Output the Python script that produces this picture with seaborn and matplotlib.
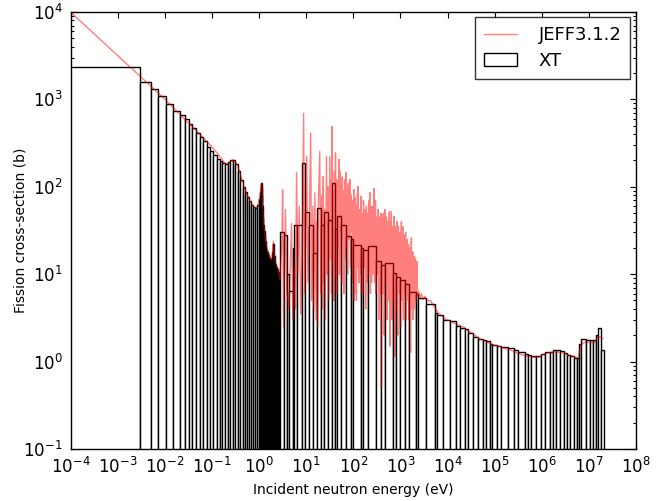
import numpy as np
import matplotlib
matplotlib.use("Agg")
import matplotlib.pyplot as plt
import seaborn as sns
from matplotlib.ticker import LogLocator, NullLocator

# JEFF3.1.2 pointwise fission cross-section, energy in eV, xs in barn
# thermal range (1/v + small resonances at 0.29 and 1.14 eV)
jeff_e_thermal = [1e-4, 1e-3, 3e-3, 1e-2, 2.53e-2, 5e-2, 0.1, 0.15, 0.19, 0.22,
                  0.26, 0.285, 0.32, 0.36, 0.39, 0.45, 0.5, 0.58, 0.65, 0.75,
                  0.82, 0.9, 0.97, 1.03, 1.07, 1.1, 1.12, 1.15, 1.17, 1.21,
                  1.25, 1.3, 1.4, 1.55, 1.7, 1.8, 1.92, 2.0, 2.07, 2.15,
                  2.3, 2.5, 2.75]
jeff_xs_thermal = [9900, 3150, 1830, 1000, 600, 420, 285, 218, 184, 188,
                   198, 204, 188, 165, 143, 110, 92, 76, 68, 60,
                   57, 59, 66, 78, 92, 105, 110, 95, 71, 48,
                   38, 30, 22, 17.5, 15.5, 14.7, 17, 23.7, 19, 14.7,
                   12.5, 11.3, 8.6]

# resolved resonance range
jeff_e_res = [3.0, 3.14, 3.3, 3.6, 3.9, 4.3, 4.85, 5.2, 5.6, 5.9,
              6.2, 6.6, 7.1, 7.6, 8.2, 8.77, 9.2, 9.7, 10.2, 10.8,
              11.6, 12.4, 13.0, 13.8, 14.4, 15.2, 16.1, 16.7, 17.5, 18.1,
              19.3, 20.2, 21.1, 22.0, 22.9, 23.6, 24.3, 25.3, 26.8, 27.8,
              28.9, 30.0, 31.6, 32.8, 33.5, 34.3, 35.2, 36.4, 37.5, 38.5,
              39.4, 40.5, 41.7, 43.0, 44.5, 45.5, 46.9, 48.0, 49.3, 50.8,
              52.0, 53.5, 55.0, 56.5, 58.0, 60.0, 61.5, 63.0, 65.0, 67.0,
              69.0, 71.0, 73.0, 75.5, 78.0, 80.5, 84.0, 87.0, 90.0, 93.0,
              96.0, 99.0, 102, 105, 108, 111, 114, 118, 122, 126,
              130, 134, 139, 144, 149, 153, 158, 164, 170, 176,
              182, 189, 195, 202, 209, 216, 223, 231, 239, 247,
              256, 265, 275, 285, 295, 305, 316, 334, 346, 358,
              371, 384, 395, 407, 421, 436, 452, 468, 485, 502,
              520, 539, 558, 578, 599, 620, 641, 663, 687, 711,
              736, 762, 789, 817, 846, 876, 907, 939, 972, 1006,
              1048, 1085, 1123, 1163, 1204, 1246, 1290, 1336, 1383, 1432,
              1482, 1534, 1588, 1644, 1713, 1770, 1830, 1890, 1950, 2010,
              2080, 2150, 2256]
jeff_xs_res = [20, 92, 2.5, 55, 6, 4, 38, 3, 12, 4,
               145, 10, 60, 3.5, 15, 695, 6, 25, 223, 8,
               45, 410, 5, 60, 4, 85, 3, 40, 2.5, 70,
               254, 6, 80, 4, 131, 8, 55, 3, 223, 10,
               100, 5, 223, 15, 120, 6, 490, 12, 90, 5,
               150, 18, 245, 9, 120, 6, 90, 20, 205, 10,
               150, 30, 100, 8, 130, 25, 90, 6, 120, 15,
               145, 20, 95, 10, 110, 25, 121, 12, 80, 30,
               70, 8, 93, 20, 75, 6, 60, 15, 85, 101,
               10, 55, 25, 78, 6, 50, 14, 70, 20, 45,
               4, 60, 25, 50, 10, 70, 86, 6, 55, 12,
               60, 20, 96, 8, 70, 15, 45, 55, 3, 40,
               10, 50, 0.52, 48, 6, 40, 2, 55, 10, 45,
               3, 35, 8, 52, 1.5, 40, 52, 3, 35, 10,
               46, 1.15, 30, 12, 40, 2, 35, 8, 30, 2.5,
               40, 8, 35, 3, 28, 10, 30, 4, 25, 8,
               22, 3, 20, 1.27, 26, 6, 18, 4, 16, 5,
               15, 6, 14]

# further resonances in the dense 100 eV - 2.2 keV band
jeff_e_res2 = [100.5, 103.5, 106.5, 109.5, 112.5, 116, 120, 124, 128, 132,
               136.5, 141.5, 146.5, 151, 155.5, 161, 167, 173, 179, 185.5,
               192, 198.5, 205.5, 212.5, 219.5, 227, 235, 243, 251.5, 260.5,
               270, 280, 290, 300, 310.5, 325, 340, 352, 364.5, 377.5,
               389.5, 401, 414, 428.5, 444, 460, 476.5, 493.5, 511, 529.5,
               548.5, 568, 588.5, 609.5, 630.5, 652, 675, 699, 723.5, 749,
               775.5, 803, 831.5, 861, 891.5, 923, 955.5, 989, 1027, 1066.5,
               1104, 1143, 1183.5, 1225, 1268, 1313, 1359.5, 1407.5, 1457, 1508,
               1561, 1616, 1678.5, 1741.5, 1800, 1860, 1920, 1980, 2045, 2115,
               2200]
jeff_xs_res2 = [30, 5, 50, 12, 40, 5, 35, 12, 45, 8,
                40, 10, 60, 15, 40, 6, 45, 12, 55, 10,
                40, 8, 45, 15, 50, 12, 60, 8, 50, 10,
                40, 15, 55, 6, 45, 10, 50, 8, 45, 6,
                40, 10, 45, 8, 50, 6, 40, 8, 35, 6,
                40, 5, 30, 8, 35, 6, 30, 5, 40, 6,
                35, 4, 30, 5, 30, 6, 28, 4, 25, 5,
                28, 4, 25, 6, 25, 3, 22, 5, 20, 4,
                18, 3, 20, 4, 16, 3, 15, 4, 14, 5,
                12]

# unresolved + fast range
jeff_e_fast = [2300, 2450, 2600, 2800, 3000, 3300, 3560, 4000, 4400, 4900,
               5500, 6100, 6800, 7600, 8500, 9500, 1.1e4, 1.3e4, 1.5e4, 1.8e4,
               2.3e4, 2.7e4, 3.5e4, 4.4e4, 6e4, 8.6e4, 1.2e5, 1.64e5, 2.3e5, 3.1e5,
               4e5, 5.1e5, 6.2e5, 7.7e5, 9e5, 1.07e6, 1.4e6, 1.74e6, 2.4e6, 3.2e6,
               3.93e6, 5e6, 5.9e6, 6.4e6, 6.9e6, 7.8e6, 8.9e6, 1.1e7, 1.33e7, 1.5e7,
               1.64e7, 1.8e7, 2.0e7]
jeff_xs_fast = [5.6, 6.4, 5.4, 6.0, 5.1, 5.6, 5.2, 4.9, 5.0, 4.4,
                4.1, 3.7, 3.5, 3.3, 3.15, 3.0, 2.95, 2.8, 2.7, 2.6,
                2.43, 2.27, 2.08, 1.88, 1.72, 1.58, 1.5, 1.41, 1.34, 1.23,
                1.19, 1.15, 1.12, 1.11, 1.14, 1.2, 1.26, 1.28, 1.28, 1.23,
                1.18, 1.13, 1.1, 1.3, 1.54, 1.65, 1.67, 1.65, 1.65, 1.85,
                1.94, 1.9, 1.83]

# XT multigroup cross-section: group boundaries (eV) and group values (b)
xt_edges = [1e-5, 2.92e-3, 5.0e-3, 7.14e-3, 1.03e-2, 1.49e-2, 2.06e-2, 2.63e-2, 3.2e-2, 3.76e-2,
            4.5e-2, 5.48e-2, 6.44e-2, 7.6e-2, 8.94e-2, 0.105, 0.124, 0.146, 0.163, 0.186,
            0.215, 0.241, 0.275, 0.308, 0.352, 0.393, 0.442, 0.488, 0.546, 0.593,
            0.673, 0.731, 0.819, 0.889, 0.966, 1.045,
            1.07, 1.09, 1.11, 1.13, 1.15, 1.17, 1.2, 1.23, 1.26, 1.3,
            1.34, 1.38, 1.42, 1.47, 1.52, 1.57, 1.62, 1.68, 1.74, 1.8,
            1.86, 1.93, 2.0, 2.07, 2.14, 2.21, 2.3, 2.4, 2.5, 2.6,
            2.7, 2.77,
            3.28, 3.85, 4.19, 5.09, 5.61, 6.28, 7.91, 9.29, 11.3, 13.9,
            16.5, 20.3, 23.9, 28.2, 34.3, 40.3, 45.9, 55.8, 71.3, 91.2,
            98.6, 148.6, 160.7, 205, 309, 382, 464, 697, 794, 1000,
            1234, 1524, 2186, 2365, 3565, 5346, 5984, 8020, 1.11e4, 1.49e4,
            1.82e4,
            2.32e4, 2.72e4, 3.48e4, 4.44e4, 5.67e4, 6.7e4, 7.87e4, 8.81e4, 1.15e5, 1.39e5,
            1.93e5, 2.58e5, 3.14e5, 4.36e5, 5.12e5, 6.04e5, 7.71e5, 9.52e5, 1.16e6, 1.48e6,
            1.74e6, 2.05e6, 2.41e6, 2.93e6, 3.44e6, 4.06e6, 4.78e6, 5.61e6, 6.19e6, 6.96e6,
            8.59e6, 1.04e7, 1.23e7, 1.45e7, 1.57e7, 1.85e7, 2.1e7]
xt_xs = [2370, 1597, 1309, 1096, 889, 745, 665, 594, 525, 469,
         411, 370, 330, 289, 260, 232, 207, 195, 185,
         183, 190, 200, 202, 180, 150, 120, 100, 88, 77,
         68, 62, 58, 57, 62, 72,
         88, 100, 108, 110, 100, 80, 60, 45, 37, 31,
         27, 24, 21, 19, 18, 17.5, 16.5, 15.5, 15, 14.7,
         15, 18, 23, 22, 16, 14, 13, 12, 11.5, 10.5,
         9.5, 8.8,
         30, 28, 10, 6.4, 19.9, 36.8, 36.8, 187, 52, 36.8,
         17.6, 57, 37, 52, 42, 110, 32.5, 46, 37, 27,
         25, 21.7, 20, 19, 21, 14, 12.8, 13.5, 10.3, 9.3,
         8.6, 7.8, 6.3, 6.0, 5.3, 4.5, 3.6, 3.4, 3.0, 2.9,
         2.55,
         2.45, 2.36, 2.12, 1.93, 1.83, 1.77, 1.7, 1.6, 1.55, 1.5,
         1.45, 1.41, 1.34, 1.27, 1.23, 1.2, 1.17, 1.17, 1.23, 1.27,
         1.27, 1.34, 1.36, 1.32, 1.24, 1.18, 1.15, 1.1, 1.09, 1.58,
         1.83, 1.77, 1.77, 1.77, 2.0, 2.43, 1.37]

jeff_energy = np.array(jeff_e_thermal + jeff_e_res + jeff_e_res2 + jeff_e_fast, dtype=float)
jeff_xs = np.array(jeff_xs_thermal + jeff_xs_res + jeff_xs_res2 + jeff_xs_fast, dtype=float)
assert len(jeff_energy) == len(jeff_xs)
assert len(xt_edges) == len(xt_xs) + 1
srt = np.argsort(jeff_energy, kind="stable")
jeff_energy = jeff_energy[srt]
jeff_xs = jeff_xs[srt]

sns.set_theme(style="white", rc={
    "axes.edgecolor": "black",
    "axes.linewidth": 1.0,
    "axes.labelcolor": "black",
    "text.color": "black",
    "xtick.color": "black",
    "ytick.color": "black",
    "xtick.labelsize": 12,
    "ytick.labelsize": 12,
    "axes.labelsize": 10,
    "legend.fontsize": 13,
})
plt.rcParams["font.family"] = ["DejaVu Sans"]

fig, ax = plt.subplots(figsize=(6.63, 5.01), dpi=100)
fig.subplots_adjust(left=0.107, right=0.959, bottom=0.104, top=0.976)

ax.set_xscale("log")
ax.set_yscale("log")

lo = np.array(xt_edges[:-1])
hi = np.array(xt_edges[1:])
bars = ax.bar(lo, xt_xs, width=hi - lo, align="edge",
              facecolor="white", edgecolor="black", linewidth=1.0, label="XT")

sns.lineplot(x=jeff_energy, y=jeff_xs, ax=ax, color="red", alpha=0.5,
             linewidth=1.0, estimator=None, sort=False, label="JEFF3.1.2")

ax.set_xlim(1e-4, 1e8)
ax.set_ylim(1e-1, 1e4)
ax.xaxis.set_major_locator(LogLocator(base=10, numticks=20))
ax.xaxis.set_minor_locator(NullLocator())
ax.yaxis.set_major_locator(LogLocator(base=10, numticks=10))
ax.yaxis.set_minor_locator(LogLocator(base=10, subs=np.arange(2, 10), numticks=10))
ax.tick_params(which="both", direction="in", top=True, right=True,
               bottom=True, left=True, width=0.8)
ax.tick_params(which="major", length=4, pad=6)
ax.tick_params(which="minor", length=2)

ax.set_xlabel("Incident neutron energy (eV)")
ax.set_ylabel("Fission cross-section (b)", labelpad=-3)

handles, labels = ax.get_legend_handles_labels()
order = [labels.index("JEFF3.1.2"), labels.index("XT")]
leg = ax.legend([handles[i] for i in order], [labels[i] for i in order],
                loc="upper right", fancybox=False, frameon=True,
                borderaxespad=0.3, handlelength=1.8, handletextpad=1.2,
                borderpad=0.5, labelspacing=0.4)
leg.get_frame().set_edgecolor("black")
leg.get_frame().set_linewidth(1.0)

fig.savefig("out.png", dpi=100)
